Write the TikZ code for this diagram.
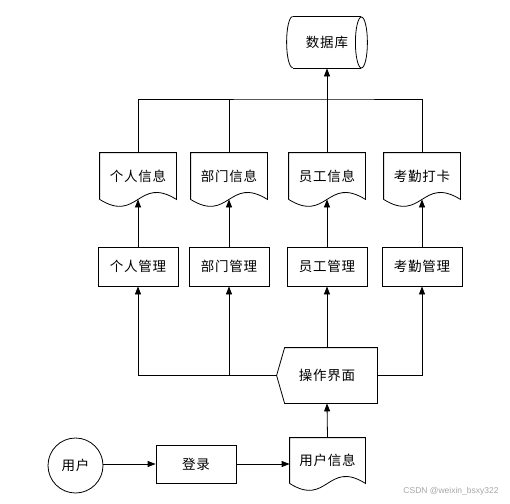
\documentclass[tikz,border=0pt]{standalone}
\usepackage{fontspec}
\newfontfamily\cjk[LetterSpace=6]{Noto Sans CJK SC}
\newfontfamily\wmfont{Liberation Sans}
\usetikzlibrary{arrows.meta,calc}
\tikzset{
  base/.style={font=\cjk\fontsize{13.5}{16}\selectfont, inner sep=0pt, line width=0.8pt},
  box/.style={base, draw, minimum width=80pt, minimum height=39pt},
  docnode/.style={base, minimum width=76pt, minimum height=46pt},
  ln/.style={line width=0.8pt},
  arr/.style={line width=0.8pt, -{Triangle[length=8pt,width=6pt]}},
}
\newcommand\docpath[1]{%
  \draw[ln] (#1.south west) -- (#1.north west) -- (#1.north east) -- (#1.south east)
    .. controls ($(#1.south)+(0,-24)$) and ($(#1.south)+(0,24)$) .. (#1.south west);}
\begin{document}
\begin{tikzpicture}[x=1pt,y=-1pt]
\useasboundingbox (0,0) rectangle (510,503);
% database
\node[base, minimum width=80pt, minimum height=51pt] (db) at (327,42.5) {数据库};
\draw[ln] ($(db.north west)+(6,0)$) -- ($(db.north east)+(-6,0)$);
\draw[ln] ($(db.south west)+(6,0)$) -- ($(db.south east)+(-6,0)$);
\draw[ln] ($(db.east)+(-6,0)$) ellipse [x radius=6pt, y radius=25.5pt];
\draw[ln] ($(db.north west)+(6,0)$) arc [start angle=90, end angle=270, x radius=6pt, y radius=25.5pt];
% documents
\node[docnode] (d1) at (138,176) {个人信息};
\node[docnode] (d2) at (229,176) {部门信息};
\node[docnode] (d3) at (327,176) {员工信息};
\node[docnode] (d4) at (422,176) {考勤打卡};
\docpath{d1}\docpath{d2}\docpath{d3}\docpath{d4}
% management
\node[box] (m1) at (138,266.5) {个人管理};
\node[box] (m2) at (229,266.5) {部门管理};
\node[box] (m3) at (327,266.5) {员工管理};
\node[box] (m4) at (422,266.5) {考勤管理};
% interface
\node[base, minimum width=100pt, minimum height=55pt] (ui) at (327,375.5) {操作界面};
\draw[ln] (ui.west) -- ($(ui.north west)+(8,0)$) -- (ui.north east) -- (ui.south east) -- ($(ui.south west)+(8,0)$) -- cycle;
% bottom row
\node[base, draw, circle, minimum size=55pt] (u) at (75.5,465.5) {用户};
\node[box, minimum height=38pt] (login) at (196,464) {登录};
\node[docnode, minimum width=75pt, minimum height=45pt] (du) at (327.5,460.5) {用户信息};
\docpath{du}
% connectors
\coordinate (bus) at (327,99);
\draw[arr] (d3.north) -- (db.south);
\draw[ln] (d1.north) |- (bus) -| (d4.north);
\draw[ln] (d2.north) -- (d2.north |- bus);
\draw[arr] (m1.north) -- (d1.south);
\draw[arr] (m2.north) -- (d2.south);
\draw[arr] (m3.north) -- (d3.south);
\draw[arr] (m4.north) -- (d4.south);
\draw[arr] (ui.west) -| (m1.south);
\draw[arr] (ui.west -| m2.south) -- (m2.south);
\draw[arr] (ui.north) -- (m3.south);
\draw[arr] (ui.east) -| (m4.south);
\draw[arr] (u.east |- login.east) -- (login.west);
\draw[arr] (login.east) -- (login.east -| du.west);
\draw[arr] (du.north) -- (ui.south);
% watermark
\node[font=\wmfont\fontsize{8.5}{10}\selectfont, text=black!35, inner sep=0pt] (wm) at (451,491) {CSDN @weixin\_bsxy322};
\end{tikzpicture}
\end{document}
